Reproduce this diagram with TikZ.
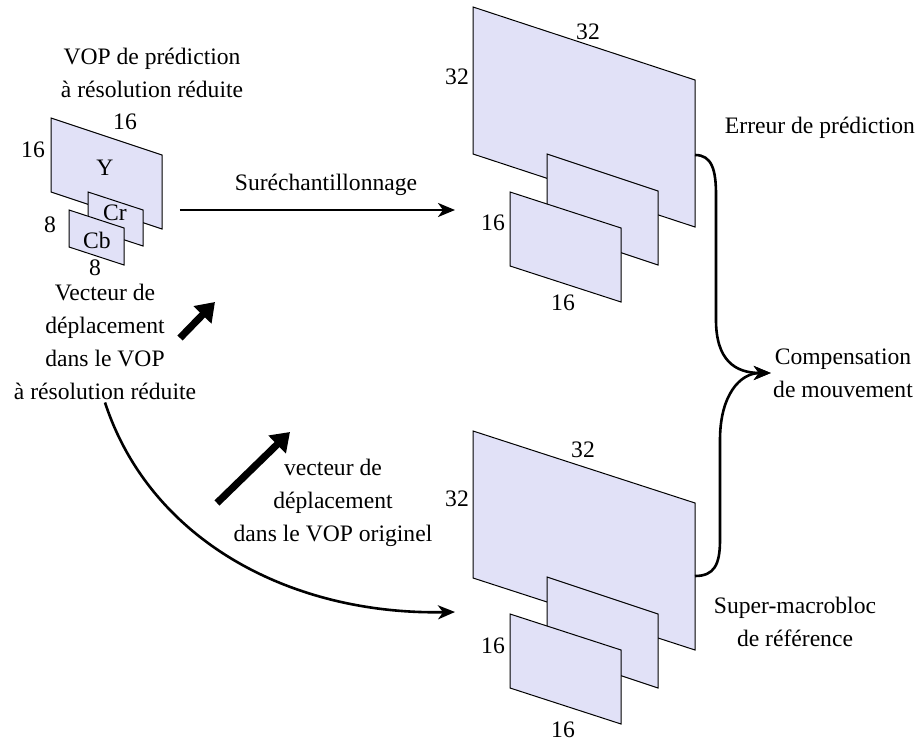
\documentclass[tikz,border=0pt]{standalone}
\usepackage{fontspec}
\setmainfont{Liberation Serif}[
    Extension=.ttf,
    UprightFont=LiberationSerif-Regular,
    BoldFont=LiberationSerif-Bold]
\usetikzlibrary{arrows.meta}
\definecolor{planfill}{RGB}{225,225,247}

\begin{document}
\begin{tikzpicture}[
        x=0.5pt, y=-0.5pt,
        every node/.style={
            align=center,
            inner sep=1pt,
            font=\rmfamily\fontsize{11.8}{16.6}\selectfont
        },
        plan/.style={fill=planfill, draw=black, line width=0.5pt},
        conn/.style={line width=1.3pt, -{Stealth[length=8.5pt,width=7pt,inset=2.5pt]}},
        vecarrow/.style={line width=3.6pt, -{Triangle[length=9pt,width=12pt]}}
    ]

        \useasboundingbox (0,0) rectangle (921,742);

        \filldraw[plan] (51,118) -- ++(111,37) -- ++(0,74) -- ++(-111,-37) -- cycle;
        \filldraw[plan] (88,192) -- ++(55,18) -- ++(0,36) -- ++(-55,-18) -- cycle;
        \filldraw[plan] (69,210) -- ++(55,18) -- ++(0,37) -- ++(-55,-18) -- cycle;

        \filldraw[plan] (473,7) -- ++(222,73) -- ++(0,147) -- ++(-222,-73) -- cycle;
        \filldraw[plan] (547,154) -- ++(111,37) -- ++(0,74) -- ++(-111,-37) -- cycle;
        \filldraw[plan] (510,192) -- ++(111,36) -- ++(0,74) -- ++(-111,-36) -- cycle;

        \filldraw[plan] (473,431) -- ++(222,72) -- ++(0,147) -- ++(-222,-72) -- cycle;
        \filldraw[plan] (547,577) -- ++(111,37) -- ++(0,74) -- ++(-111,-37) -- cycle;
        \filldraw[plan] (510,614) -- ++(111,36) -- ++(0,74) -- ++(-111,-36) -- cycle;

        \node (titrevop) at (152,73)
        {VOP de prédiction\\à résolution réduite};

        \node (ylarg) at (125,122) {16};
        \node (yhaut) at (33,150) {16};
        \node (ylum) at (105,168) {Y};
        \node (cr) at (115,213) {Cr};
        \node (cb) at (97,240) {Cb};
        \node (chaut) at (50,225) {8};
        \node (clarg) at (95,268) {8};

        \node (vecred) at (105,342)
        {Vecteur de\\déplacement\\dans le VOP\\à résolution réduite};

        \node (surech) at (326,185) {Suréchantillonnage};

        \node (erlarg) at (588,32) {32};
        \node (erhaut) at (457,77) {32};
        \node (erchaut) at (493,223) {16};
        \node (erclarg) at (563,303) {16};

        \node (erreur) at (820,128) {Erreur de prédiction};

        \node (comp) at (843,373)
        {Compensation\\de mouvement};

        \node (reflarg) at (583,450) {32};
        \node (refhaut) at (457,499) {32};
        \node (refchaut) at (493,646) {16};
        \node (refclarg) at (563,730) {16};

        \node (refbloc) at (795,622)
        {Super-macrobloc\\de référence};

        \node (vecorig) at (333,503)
        {vecteur de\\déplacement\\dans le VOP originel};

        \coordinate (smallout) at (180,210);
        \coordinate (upin) at (455,210);
        \coordinate (errout) at (695,155);
        \coordinate (refout) at (695,576);
        \coordinate (refin) at (455,612);
        \coordinate (vr1) at (180,338);
        \coordinate (vr2) at (215,302);
        \coordinate (vo1) at (217,503);
        \coordinate (vo2) at (290,432);

        \draw[conn] (smallout) -- (upin);
        \draw[conn] (vecred.south) .. controls (150,540) and (290,615) .. (refin);
        \draw[conn] (errout) .. controls (712,155) and (716,170) .. (716,195)
            -- (716,320) .. controls (716,360) and (735,373) .. (comp.west);
        \draw[conn] (refout) .. controls (714,576) and (720,565) .. (720,540)
            -- (720,440) .. controls (720,395) and (740,373) .. (comp.west);

        \draw[vecarrow] (vr1) -- (vr2);
        \draw[vecarrow] (vo1) -- (vo2);

    \end{tikzpicture}
\end{document}
